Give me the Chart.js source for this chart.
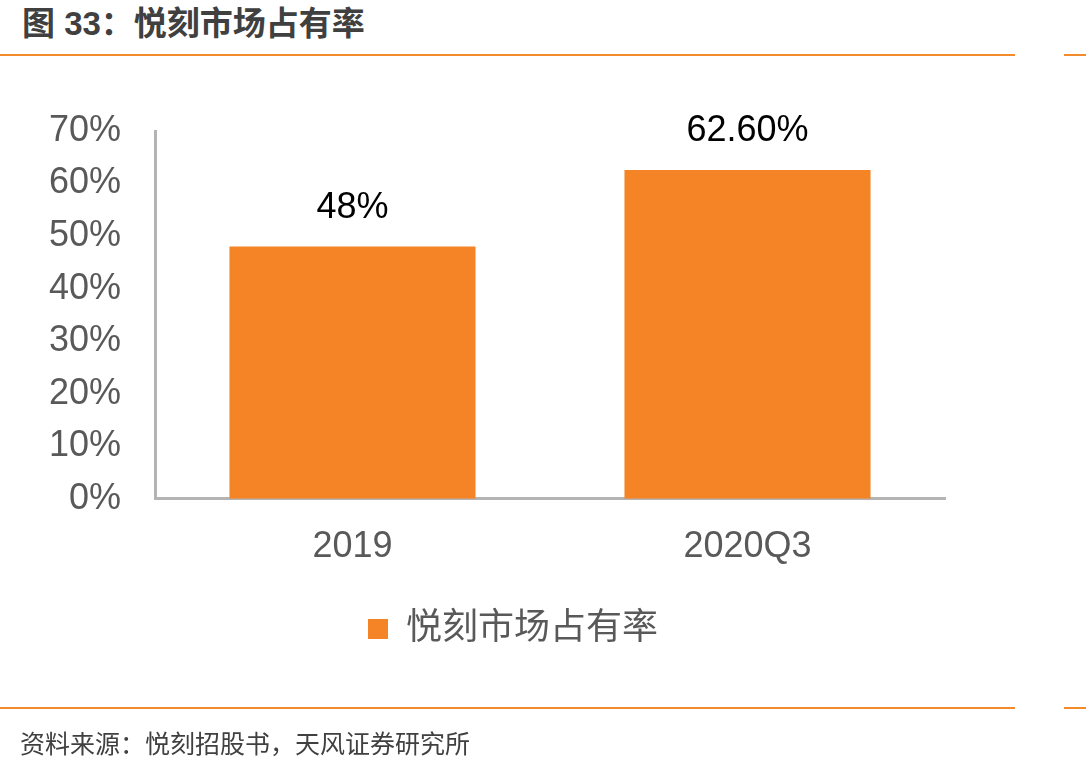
<!DOCTYPE html>
<html>
<head>
<meta charset="utf-8">
<script src="https://cdn.jsdelivr.net/npm/chart.js@4.4.0/dist/chart.umd.min.js"></script>
<style>
  html, body { margin: 0; padding: 0; background: #fff; }
  #wrap { position: relative; width: 1086px; height: 771px; overflow: hidden; }
  #chart { position: absolute; left: 0; top: 0; }
  .title {
    position: absolute; left: 22px; top: -3px; line-height: 40px;
    font: bold 33px 'Liberation Sans', 'Noto Sans CJK SC', sans-serif; color: #404040;
  }
  .source {
    position: absolute; left: 20px; top: 724px; line-height: 36px;
    font: 25px 'Liberation Sans', 'Noto Sans CJK SC', sans-serif; color: #404040;
  }
  .rule { position: absolute; height: 2px; background: #f28b2c; }
</style>
</head>
<body>
<div id="wrap">
  <div class="title">图 33：悦刻市场占有率</div>
  <div class="rule" style="left:0;width:1015px;top:54px"></div>
  <div class="rule" style="left:1064px;width:22px;top:54px"></div>
  <canvas id="chart" width="1086" height="771"></canvas>
  <div class="rule" style="left:0;width:1015px;top:707px"></div>
  <div class="rule" style="left:1064px;width:22px;top:707px"></div>
  <div class="source">资料来源：悦刻招股书，天风证券研究所</div>
</div>
<script>
const categories = ['2019', '2020Q3'];
const shareValues = [48, 62.6];
const shareLabels = ['48%', '62.60%'];
const yTicks = [0, 10, 20, 30, 40, 50, 60, 70];

const font = "'Liberation Sans', 'Noto Sans CJK SC', sans-serif";

// 柱顶数值标签
const valueLabels = {
  id: 'valueLabels',
  afterDatasetsDraw(chart) {
    const ctx = chart.ctx;
    const meta = chart.getDatasetMeta(0);
    ctx.save();
    ctx.font = '36px ' + font;
    ctx.fillStyle = '#000';
    ctx.textAlign = 'center';
    ctx.textBaseline = 'middle';
    meta.data.forEach((bar, i) => {
      ctx.fillText(shareLabels[i], bar.x, bar.y - 39);
    });
    ctx.restore();
  }
};

new Chart(document.getElementById('chart').getContext('2d'), {
  type: 'bar',
  data: {
    labels: categories,
    datasets: [{
      label: '悦刻市场占有率',
      data: shareValues,
      backgroundColor: '#f58426',
      barPercentage: 0.623,
      categoryPercentage: 1,
    }],
  },
  options: {
    responsive: false,
    animation: false,
    layout: { padding: { left: 0, right: 60, top: 131, bottom: 114 } },
    plugins: {
      legend: {
        position: 'bottom',
        labels: {
          boxWidth: 20,
          boxHeight: 20,
          padding: 23,
          color: '#595959',
          font: { size: 36, family: font },
        },
      },
      tooltip: { enabled: false },
    },
    scales: {
      x: {
        grid: { display: false },
        border: { display: true, color: '#b4b4b4', width: 3 },
        ticks: { color: '#595959', padding: 19, font: { size: 36, family: font } },
      },
      y: {
        min: 0,
        max: 70,
        afterFit(scale) { scale.width = 155; },
        afterBuildTicks(scale) { scale.ticks = yTicks.map(v => ({ value: v })); },
        grid: { display: false, drawTicks: false },
        border: { display: true, color: '#b4b4b4', width: 3 },
        ticks: {
          color: '#595959',
          padding: 34,
          font: { size: 36, family: font },
          callback: v => v + '%',
        },
      },
      // 右侧留白轴,让图例居中位置与原图一致
      spacer: {
        position: 'right',
        min: 0,
        max: 70,
        afterFit(scale) { scale.width = 81; },
        grid: { display: false, drawTicks: false },
        border: { display: false },
        ticks: { display: false },
      },
    },
  },
  plugins: [valueLabels],
});
</script>
</body>
</html>
